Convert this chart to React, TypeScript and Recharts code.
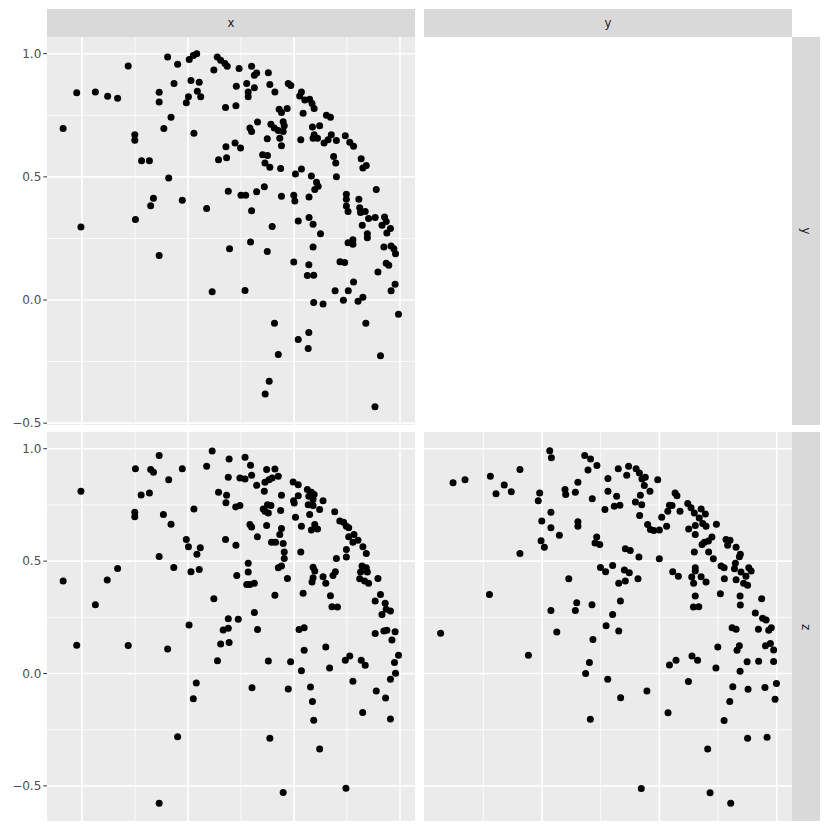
import { ScatterChart, Scatter, XAxis, YAxis, ReferenceLine, CartesianGrid } from "recharts";

// panel x (column) vs y (row)
const xyX = [
  -0.096, -0.049, 0.006, 0.025, 0.041, -0.282, 0.138, 0.154, 0.174, 0.185,
  0.122, -0.066, 0.014, 0.053, -0.136, -0.136, 0.044, 0.06, 0.002, -0.008,
  -0.525, -0.437, -0.379, -0.332, 0.177, -0.08, -0.114, -0.589, -0.251, -0.251,
  0.028, 0.179, 0.182, 0.144, -0.219, -0.182, -0.091, 0.19, -0.163, -0.176,
  -0.027, 0.088, -0.248, -0.505,
  0.241, 0.3, 0.324, 0.313, 0.379, 0.228, 0.277, 0.313, 0.284, 0.284,
  0.386, 0.41, 0.473, 0.485, 0.535, 0.527, 0.551, 0.574, 0.585, 0.595,
  0.226, 0.43, 0.468, 0.441, 0.543, 0.653, 0.672, 0.328, 0.292, 0.3,
  0.391, 0.407, 0.426, 0.449, 0.454, 0.449, 0.374, 0.433, 0.441, 0.532,
  0.587, 0.621, 0.595, 0.59, 0.611, 0.642, 0.661, 0.676, 0.7, 0.742,
  0.763, 0.781, 0.222, 0.248, 0.352, 0.375, 0.363, 0.386, 0.437, 0.687,
  0.697, 0.817, 0.825, 0.841, 0.507, 0.535, 0.582, 0.606, 0.614, 0.598, 0.7,
  0.25, 0.272, 0.324, 0.36, 0.441, 0.499, 0.504, 0.571, 0.747, 0.747,
  0.888, 0.806, 0.747, 0.755, 0.81, 0.814, 0.836, 0.3, 0.52, 0.571,
  0.59, 0.397, 0.822, 0.852, 0.883, 0.927, 0.935, 0.915, 0.955,
  0.625, 0.846, 0.846, 0.938,
  0.295, 0.374, 0.59, 0.499, 0.57, 0.563, 0.593, 0.755, 0.778, 0.778,
  0.924, 0.958, 0.971, 0.979, 0.717, 0.739, 0.935, 0.947, 0.896, 0.781,
  0.694, 0.756, 0.733, 0.802, 0.825, 0.977, 0.958, 0.269, 0.593, 0.637,
  0.993, 0.839, 0.408, 0.57, 0.52, 0.567, 0.426, 0.908, 0.383, 0.364, 0.882,
  -0.136, 0.114, 0.196,
];
const xyY = [
  0.987, 0.957, 0.976, 0.993, 1.0, 0.95, 0.987, 0.973, 0.96, 0.949,
  0.934, 0.879, 0.891, 0.884, 0.843, 0.804, 0.848, 0.825, 0.825, 0.801,
  0.841, 0.845, 0.827, 0.819, 0.782, 0.742, 0.696, 0.696, 0.671, 0.649,
  0.677, 0.622, 0.578, 0.569, 0.565, 0.565, 0.495, 0.442, 0.413, 0.383,
  0.405, 0.372, 0.327, 0.296,
  0.94, 0.949, 0.922, 0.913, 0.923, 0.868, 0.879, 0.862, 0.845, 0.825,
  0.875, 0.844, 0.879, 0.871, 0.845, 0.828, 0.812, 0.815, 0.798, 0.777,
  0.789, 0.774, 0.777, 0.761, 0.758, 0.75, 0.742, 0.723, 0.698, 0.684,
  0.714, 0.698, 0.688, 0.724, 0.707, 0.684, 0.655, 0.657, 0.626, 0.651,
  0.702, 0.707, 0.671, 0.657, 0.657, 0.637, 0.651, 0.671, 0.648, 0.667,
  0.64, 0.624, 0.637, 0.617, 0.59, 0.587, 0.556, 0.539, 0.534, 0.583,
  0.556, 0.573, 0.536, 0.546, 0.512, 0.532, 0.503, 0.478, 0.462, 0.449, 0.5,
  0.425, 0.425, 0.44, 0.46, 0.421, 0.425, 0.402, 0.418, 0.429, 0.409,
  0.449, 0.409, 0.382, 0.359, 0.375, 0.355, 0.359, 0.362, 0.321, 0.335,
  0.308, 0.298, 0.304, 0.331, 0.335, 0.337, 0.319, 0.304, 0.29,
  0.269, 0.269, 0.253, 0.272,
  0.235, 0.197, 0.215, 0.154, 0.143, 0.099, 0.101, 0.232, 0.245, 0.226,
  0.215, 0.219, 0.208, 0.188, 0.155, 0.152, 0.149, 0.141, 0.114, 0.073,
  0.038, 0.038, -0.001, -0.005, 0.011, 0.064, 0.038, 0.039, -0.01, -0.016,
  -0.058, -0.094, -0.094, -0.132, -0.16, -0.197, -0.221, -0.226, -0.33, -0.382, -0.433,
  0.181, 0.034, 0.208,
];

// panel x (column) vs z (row)
const xzX = [
  -0.136, 0.114, 0.194, -0.248, -0.176, -0.163, -0.027, 0.088, -0.091, 0.19,
  -0.505, -0.221, -0.182, 0.144, 0.182, 0.179, -0.251, -0.251, -0.116, 0.028,
  -0.08, -0.008, 0.002, 0.058, 0.042, 0.177, -0.136, -0.332, -0.381, -0.589,
  -0.067, 0.014, 0.053, -0.437, 0.122, 0.19,
  0.005, 0.166, 0.19, 0.154, 0.194, 0.139, -0.525, -0.282, -0.096, 0.039, 0.025, -0.049, -0.136,
  0.269, 0.295, 0.245, 0.269, 0.3, 0.324, 0.36, 0.371, 0.41, 0.363,
  0.382, 0.397, 0.426, 0.441, 0.496, 0.52, 0.52, 0.501, 0.498, 0.563,
  0.582, 0.595, 0.57, 0.59, 0.567, 0.59, 0.621, 0.637, 0.225, 0.245,
  0.355, 0.375, 0.391, 0.363, 0.379, 0.437, 0.574, 0.507, 0.535, 0.582,
  0.598, 0.611, 0.692, 0.716, 0.734, 0.747, 0.758, 0.758, 0.783, 0.778,
  0.802, 0.825, 0.841, 0.292, 0.3, 0.371, 0.327, 0.441, 0.433, 0.394,
  0.413, 0.449, 0.454, 0.454, 0.532, 0.747, 0.747, 0.7, 0.226, 0.284,
  0.284, 0.23, 0.277, 0.292, 0.313, 0.426, 0.441, 0.469, 0.59, 0.598,
  0.59, 0.585, 0.637, 0.65, 0.684, 0.695, 0.821, 0.814, 0.841, 0.846,
  0.81, 0.833, 0.852, 0.896, 0.41, 0.543, 0.672, 0.679, 0.705, 0.908,
  0.883, 0.93, 0.935, 0.955, 0.915, 0.237, 0.313,
  0.328, 0.524, 0.548, 0.883, 0.924, 0.938, 0.977, 0.962, 0.65, 0.548,
  0.379, 0.484, 0.535, 0.668, 0.742, 0.763, 0.817, 0.836, 0.993, 0.974,
  0.979, 0.955, 0.778, 0.888, 0.932, 0.302, 0.473, 0.578, 0.587, 0.593,
  0.824, 0.955, 0.386, 0.621, 0.449, 0.745,
];
const xzZ = [
  0.97, 0.99, 0.954, 0.911, 0.907, 0.895, 0.911, 0.922, 0.862, 0.873,
  0.811, 0.794, 0.803, 0.806, 0.793, 0.76, 0.717, 0.697, 0.707, 0.732,
  0.664, 0.596, 0.564, 0.559, 0.53, 0.596, 0.521, 0.467, 0.416, 0.411,
  0.472, 0.453, 0.463, 0.306, 0.333, 0.244,
  0.216, 0.193, 0.201, 0.131, 0.138, 0.057, 0.126, 0.125, 0.109, -0.042, -0.112, -0.281, -0.577,
  0.962, 0.926, 0.87, 0.865, 0.882, 0.837, 0.811, 0.907, 0.91, 0.851,
  0.862, 0.87, 0.877, 0.793, 0.852, 0.84, 0.791, 0.759, 0.769, 0.818,
  0.806, 0.796, 0.788, 0.774, 0.751, 0.747, 0.729, 0.769, 0.741, 0.747,
  0.732, 0.751, 0.747, 0.722, 0.714, 0.725, 0.707, 0.695, 0.655, 0.638,
  0.663, 0.643, 0.719, 0.678, 0.673, 0.655, 0.648, 0.608, 0.618, 0.584,
  0.593, 0.564, 0.534, 0.663, 0.652, 0.658, 0.608, 0.645, 0.618, 0.584,
  0.584, 0.578, 0.54, 0.512, 0.541, 0.552, 0.518, 0.512, 0.57, 0.49,
  0.451, 0.436, 0.396, 0.396, 0.401, 0.47, 0.478, 0.423, 0.473, 0.456,
  0.426, 0.407, 0.43, 0.401, 0.436, 0.453, 0.478, 0.451, 0.47, 0.451,
  0.422, 0.411, 0.401, 0.423, 0.348, 0.357, 0.346, 0.297, 0.296, 0.352,
  0.322, 0.312, 0.286, 0.278, 0.263, 0.241, 0.271,
  0.196, 0.196, 0.204, 0.178, 0.189, 0.192, 0.186, 0.149, 0.118, 0.103,
  0.056, 0.052, 0.012, 0.024, 0.059, 0.078, 0.059, 0.037, 0.081, 0.049,
  0.001, -0.025, -0.035, -0.078, -0.109, -0.063, -0.069, -0.06, -0.124, -0.208,
  -0.174, -0.202, -0.288, -0.336, -0.529, -0.51,
];

// panel y (column) vs z (row)
const yzY = [
  -0.379, -0.328, -0.22, -0.161, -0.196, -0.131, -0.094, 0.033, 0.04, -0.01,
  -0.016, 0.098, 0.101, 0.142, 0.153, 0.182, 0.207, 0.234, 0.196, 0.214,
  0.281, 0.281, 0.268, 0.038, -0.001, 0.038, 0.074, 0.153, 0.153, -0.004,
  0.01, -0.094, 0.233, 0.226, 0.246, 0.249, 0.271, 0.114, -0.224, 0.148,
  0.142, 0.213, 0.038, 0.273,
  0.325, 0.369, 0.361, 0.401, 0.415, 0.426, 0.44, 0.436, 0.46, 0.493,
  0.318, 0.308, 0.332, 0.419, 0.398, 0.425, 0.416, 0.45, 0.462, 0.476,
  0.5, 0.51, 0.531, 0.567, 0.575, 0.543, 0.536, 0.554, 0.588, 0.621,
  0.635, 0.649, 0.678, 0.696, 0.67, 0.653, 0.625, 0.653, 0.685, 0.699,
  0.743, 0.724, 0.692, 0.709, 0.682, 0.649, 0.71, 0.73, 0.784, 0.801,
  0.791, 0.827, 0.845, 0.841, 0.355, 0.376, 0.413, 0.5, 0.301, 0.351,
  0.372, 0.355, 0.327, 0.409, 0.557, 0.581, 0.653, 0.653, 0.638, 0.646,
  0.678, 0.699, 0.763, 0.776, 0.777, 0.824, 0.82, 0.848, 0.881, 0.891,
  0.869, 0.827, 0.859, 0.876, 0.76, 0.653, 0.645, 0.668, 0.844, 0.845,
  0.936, 0.909, 0.94, 0.955, 0.334, 0.301,
  0.327, 0.81, 0.827, 0.922, 0.966, 0.977, 0.749, 0.831, 0.841, 0.952,
  0.973, 0.987, 0.543, 0.571, 0.639, 0.663, 0.741, 0.874, 0.923, 0.987,
  0.844, 0.447, 0.335, 0.624, 0.537, 0.813, 0.878, 0.95, 0.999, 0.993,
  0.8, 0.776, 0.876, 0.959, 0.706, 0.423, 0.716, 0.804,
  -0.432, -0.058, 0.063, 0.217, 0.202, 0.186, 0.28, 0.206,
];
const yzZ = [
  0.849, 0.862, 0.877, 0.839, 0.8, 0.809, 0.907, 0.991, 0.96, 0.803,
  0.768, 0.818, 0.796, 0.806, 0.851, 0.97, 0.954, 0.925, 0.905, 0.777,
  0.868, 0.811, 0.729, 0.717, 0.678, 0.648, 0.615, 0.675, 0.655, 0.59,
  0.562, 0.534, 0.607, 0.581, 0.574, 0.472, 0.453, 0.422, 0.351, 0.315,
  0.28, 0.306, 0.28, 0.212,
  0.911, 0.922, 0.882, 0.911, 0.892, 0.865, 0.873, 0.836, 0.811, 0.862,
  0.788, 0.744, 0.749, 0.793, 0.763, 0.751, 0.703, 0.663, 0.641, 0.636,
  0.638, 0.695, 0.655, 0.803, 0.791, 0.749, 0.722, 0.747, 0.722, 0.756,
  0.737, 0.714, 0.732, 0.709, 0.692, 0.658, 0.643, 0.618, 0.667, 0.655,
  0.664, 0.607, 0.584, 0.589, 0.574, 0.541, 0.54, 0.51, 0.596, 0.593,
  0.57, 0.562, 0.53, 0.519, 0.555, 0.547, 0.518, 0.51, 0.481, 0.46,
  0.448, 0.411, 0.401, 0.422, 0.453, 0.433, 0.47, 0.456, 0.429, 0.401,
  0.43, 0.407, 0.478, 0.47, 0.422, 0.49, 0.466, 0.451, 0.47, 0.456,
  0.433, 0.417, 0.401, 0.393, 0.355, 0.345, 0.296, 0.297, 0.345, 0.305,
  0.333, 0.269, 0.246, 0.238, 0.322, 0.263,
  0.189, 0.204, 0.197, 0.197, 0.192, 0.204, 0.118, 0.104, 0.123, 0.123,
  0.133, 0.105, 0.038, 0.059, 0.078, 0.059, 0.024, 0.052, 0.055, 0.053,
  0.01, -0.078, -0.108, -0.036, -0.175, -0.059, -0.07, -0.062, -0.044, -0.114,
  -0.124, -0.209, -0.288, -0.283, -0.336, -0.512, -0.53, -0.577,
  0.179, 0.081, 0.185, 0.151, 0.049, 0.0, -0.025, -0.203,
];

const majorBreaks = [-0.5, 0, 0.5, 1];
const minorBreaks = [-0.75, -0.25, 0.25, 0.75];
const colLabels = ["x", "y"];
const rowLabels = ["y", "z"];

const zip = (a: number[], b: number[]) =>
  a.slice(0, Math.min(a.length, b.length)).map((v, i) => ({ x: v, y: b[i] }));

const fmt = (v: number) => (v < 0 ? "\u2212" : "") + Math.abs(v).toFixed(1);

const FONT = "DejaVu Sans, sans-serif";
const PAD = 10;
const AXIS_W = 47;

const Dot = (p: any) => <circle cx={p.cx} cy={p.cy} r={3.5} fill="#000000" />;

function Panel(props: {
  left: number; top: number; width: number; height: number;
  xDomain: [number, number]; yDomain: [number, number];
  xMajor: number[]; data: { x: number; y: number }[]; showY: boolean;
}) {
  const { left, top, width, height, xDomain, yDomain, xMajor, data, showY } = props;
  const aw = showY ? AXIS_W : 0;
  return (
    <div style={{ position: "absolute", left: left - aw, top: top - PAD }}>
      <ScatterChart width={width + aw} height={height + 2 * PAD}
        margin={{ top: PAD, bottom: PAD, left: 0, right: 0 }}>
        <CartesianGrid fill="#EBEBEB" stroke="none" horizontal={false} vertical={false} />
        <XAxis type="number" dataKey="x" domain={xDomain} allowDataOverflow hide />
        <YAxis type="number" dataKey="y" domain={yDomain} allowDataOverflow hide={!showY}
          width={AXIS_W} ticks={majorBreaks} tickFormatter={fmt} axisLine={false}
          tickSize={3.7} tickMargin={2}
          tickLine={{ stroke: "#333333", strokeWidth: 1 }}
          tick={{ fill: "#4D4D4D", fontSize: 12, fontFamily: FONT }} />
        {minorBreaks.map((v) => (
          <ReferenceLine key={"hm" + v} y={v} stroke="#FFFFFF" strokeWidth={0.8} />
        ))}
        {minorBreaks.map((v) => (
          <ReferenceLine key={"vm" + v} x={v} stroke="#FFFFFF" strokeWidth={0.8} />
        ))}
        {majorBreaks.map((v) => (
          <ReferenceLine key={"hM" + v} y={v} stroke="#FFFFFF" strokeWidth={1.6} />
        ))}
        {xMajor.map((v) => (
          <ReferenceLine key={"vM" + v} x={v} stroke="#FFFFFF" strokeWidth={1.6} />
        ))}
        <Scatter data={data} shape={Dot} isAnimationActive={false} />
      </ScatterChart>
    </div>
  );
}

const stripStyle: any = {
  position: "absolute", background: "#D9D9D9", color: "#1A1A1A",
  fontFamily: FONT, fontSize: 11.7, display: "flex",
  alignItems: "center", justifyContent: "center",
};

export default function App() {
  const col1: [number, number] = [-0.6651, 1.0708];
  const col2: [number, number] = [-0.5028, 1.0652];
  const row1: [number, number] = [-0.5075, 1.0678];
  const row2: [number, number] = [-0.6561, 1.0743];
  return (
    <div style={{ position: "absolute", left: 0, top: 0, width: 830, height: 830, background: "#FFFFFF" }}>
      <div style={{ ...stripStyle, left: 47, top: 9, width: 368, height: 28 }}>{colLabels[0]}</div>
      <div style={{ ...stripStyle, left: 424, top: 9, width: 368, height: 28 }}>{colLabels[1]}</div>
      <div style={{ ...stripStyle, left: 792, top: 37, width: 28, height: 388 }}>
        <span style={{ transform: "rotate(90deg)" }}>{rowLabels[0]}</span>
      </div>
      <div style={{ ...stripStyle, left: 792, top: 432, width: 28, height: 389 }}>
        <span style={{ transform: "rotate(90deg)" }}>{rowLabels[1]}</span>
      </div>
      <Panel left={47} top={37} width={368} height={388} xDomain={col1} yDomain={row1}
        xMajor={[-0.5, 0, 0.5, 1]} data={zip(xyX, xyY)} showY />
      <Panel left={47} top={432} width={368} height={389} xDomain={col1} yDomain={row2}
        xMajor={[-0.5, 0, 0.5, 1]} data={zip(xzX, xzZ)} showY />
      <Panel left={424} top={432} width={368} height={389} xDomain={col2} yDomain={row2}
        xMajor={[0, 0.5, 1]} data={zip(yzY, yzZ)} showY={false} />
    </div>
  );
}
